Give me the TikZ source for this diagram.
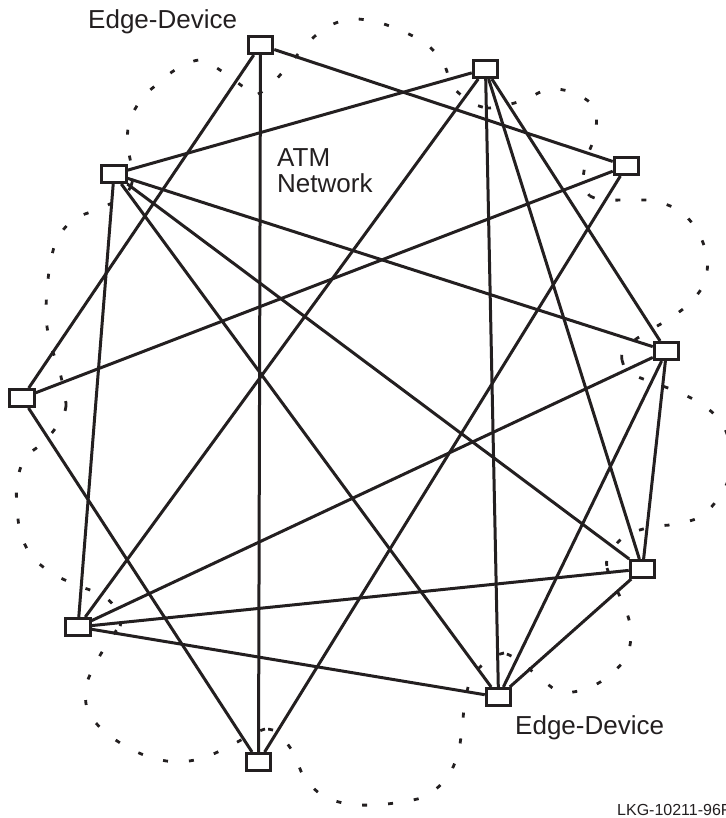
\documentclass[tikz,border=0pt]{standalone}
\usepackage{fontspec}
\setmainfont{Liberation Sans}
\definecolor{ink}{RGB}{35,31,32}
\begin{document}
\begin{tikzpicture}[x=1pt,y=-1pt,
  dev/.style={draw=ink, line width=3pt, fill=white, minimum width=24.5pt, minimum height=17pt, inner sep=0pt},
  link/.style={draw=ink, line width=3pt},
  cloudline/.style={draw=ink, line width=2.8pt, dash pattern=on 5pt off 21pt},
  lbl/.style={font=\fontsize{26}{26}\selectfont, text=ink, inner sep=0pt},
  tag/.style={font=\fontsize{16}{16}\selectfont, text=ink, inner sep=0pt}]
\useasboundingbox (0,0) rectangle (725,818);

% dotted cloud of the ATM network
\draw[cloudline] plot[smooth] coordinates {(131,186) (133,174) (128,147) (129,122) (142,98) (155,86) (175,70) (200,60) (223,72) (245,88) (258,94)};
\draw[cloudline] plot[smooth] coordinates {(258,94) (270,86) (288,66) (306,45) (325,28) (350,19) (377,22) (402,31) (425,43) (443,62) (453,87) (472,103) (486,108)};
\draw[cloudline] plot[smooth] coordinates {(486,108) (499,107) (524,100) (549,89) (574,93) (595,108) (595,135) (586,160) (583,185) (590,196)};
\draw[cloudline] plot[smooth] coordinates {(590,196) (602,200) (629,200) (655,201) (680,211) (697,230) (707,256) (705,282) (690,303) (669,319) (647,332) (624,348) (622,360)};
\draw[cloudline] plot[smooth] coordinates {(622,360) (628,372) (651,382) (676,391) (700,403) (720,420) (729,440) (731,458) (729,478) (720,496) (702,516) (677,524) (651,527) (625,536) (608,555) (607,568)};
\draw[cloudline] plot[smooth] coordinates {(607,568) (612,581) (624,605) (631,630) (627,656) (609,676) (586,689) (560,692) (538,676) (517,659) (504,653)};
\draw[cloudline] plot[smooth] coordinates {(504,653) (491,658) (472,676) (465,702) (462,728) (458,754) (447,778) (426,796) (401,802) (375,805) (348,804) (323,796) (304,777) (293,752) (277,732) (265,729)};
\draw[cloudline] plot[smooth] coordinates {(265,729) (252,734) (228,747) (203,758) (178,762) (152,758) (127,747) (105,732) (88,712) (86,686) (97,661) (110,639) (120,626)};
\draw[cloudline] plot[smooth] coordinates {(120,626) (121,615) (104,596) (79,586) (55,575) (33,558) (21,535) (17,509) (17,482) (25,458) (45,441) (62,419) (66,406)};
\draw[cloudline] plot[smooth] coordinates {(66,406) (65,395) (59,369) (50,343) (46,317) (47,291) (50,265) (57,239) (74,219) (99,209) (123,197) (131,186)};

% edge devices
\node[dev] (A) at (260.5,45) {};
\node[dev] (B) at (485.5,69) {};
\node[dev] (C) at (626.5,166) {};
\node[dev] (D) at (666.5,351) {};
\node[dev] (E) at (642.5,569) {};
\node[dev] (F) at (498.5,697) {};
\node[dev] (G) at (258.5,762) {};
\node[dev] (H) at (78,627) {};
\node[dev] (I) at (22,398) {};
\node[dev] (J) at (114,174) {};

% connections
\draw[link] (A) -- (C);
\draw[link] (A) -- (G);
\draw[link] (A) -- (I);
\draw[link] (J) -- (B);
\draw[link] (J) -- (H);
\draw[link] (J) -- (D);
\draw[link] (J) -- (E);
\draw[link] (J) -- (F);
\draw[link] (B) -- (H);
\draw[link] (B) -- (F);
\draw[link] (B) -- (E);
\draw[link] (B) -- (D);
\draw[link] (C) -- (I);
\draw[link] (C) -- (G);
\draw[link] (D) -- (H);
\draw[link] (D) -- (E);
\draw[link] (D) -- (F);
\draw[link] (E) -- (H);
\draw[link] (E) -- (F);
\draw[link] (F) -- (H);
\draw[link] (G) -- (I);

% labels
\node[lbl, anchor=base west] (t1) at (88,29) {Edge-Device};
\node[lbl, anchor=base west] (t2) at (515,734) {Edge-Device};
\node[lbl, anchor=base west] (atm) at (277,167) {ATM};
\node[lbl, anchor=base west] (net) at (277,193) {Network};
\node[tag, anchor=base west] (lkg) at (617,815) {LKG-10211-96F};
\end{tikzpicture}
\end{document}
